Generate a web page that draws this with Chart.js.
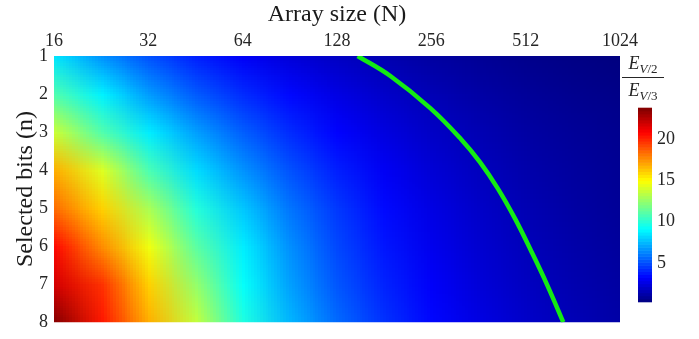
<!DOCTYPE html>
<html>
<head>
<meta charset="utf-8">
<script src="https://cdn.jsdelivr.net/npm/chart.js@4.4.0/dist/chart.umd.min.js"></script>
<style>
  html, body { margin: 0; padding: 0; background: #fff; }
  #wrap { position: relative; width: 699px; height: 339px; }
  #main, #cbar { position: absolute; top: 0; }
  #main { left: 0; }
  #cbar { left: 630px; }
  .frac { position: absolute; left: 622px; top: 53px; width: 42px; text-align: center;
          font-family: 'Liberation Serif', serif; color: #262626; font-size: 18px; }
  .frac .num { line-height: 20px; height: 20px; border-bottom: 1px solid #262626; padding-bottom: 4px; }
  .frac .den { line-height: 20px; margin-top: 2px; }
  .frac sub { font-size: 13px; line-height: 0; vertical-align: -4px; }
</style>
</head>
<body>
<div id="wrap">
  <canvas id="main" width="699" height="339"></canvas>
  <canvas id="cbar" width="69" height="339"></canvas>
  <div class="frac">
    <div class="num"><i>E</i><sub><i>V</i>/2</sub></div>
    <div class="den"><i>E</i><sub><i>V</i>/3</sub></div>
  </div>
</div>
<script>
// array sizes (columns of the map) and selected bits (rows)
var sizes = [16, 22.6, 32, 45.3, 64, 90.5, 128, 181, 256, 362, 512, 724, 1024];
var bits = [1, 2, 3, 4, 5, 6, 7, 8];

// E_V/2 / E_V/3, one array per row
var row1 = [8.5, 6.6, 5.1, 3.95, 3.05, 2.37, 1.85, 1.42, 1.08, 0.82, 0.6, 0.43, 0.3];
var row2 = [10.9, 8.8, 6.8, 5.3, 4.2, 3.37, 2.6, 2.0, 1.53, 1.17, 0.89, 0.67, 0.5];
var row3 = [13.7, 11.0, 8.7, 6.9, 5.4, 4.2, 3.25, 2.5, 1.92, 1.48, 1.13, 0.86, 0.66];
var row4 = [16.8, 14.2, 10.8, 8.3, 6.6, 5.1, 3.9, 2.98, 2.27, 1.73, 1.31, 1.0, 0.76];
var row5 = [18.3, 16.0, 13.0, 9.9, 7.8, 5.9, 4.5, 3.4, 2.6, 1.96, 1.48, 1.12, 0.85];
var row6 = [20.6, 17.6, 14.6, 11.2, 8.7, 6.5, 4.85, 3.7, 2.83, 2.16, 1.65, 1.26, 0.96];
var row7 = [21.8, 19.7, 16.0, 12.5, 9.2, 6.9, 5.2, 4.0, 3.1, 2.35, 1.81, 1.4, 1.08];
var row8 = [23.6, 20.3, 16.8, 13.6, 9.8, 7.4, 5.65, 4.35, 3.35, 2.6, 2.0, 1.55, 1.2];

// green line
var lineN = [149, 189, 254, 318, 366, 417, 473, 534, 599, 675];
var lineBits = [1, 1.52, 2.37, 3.18, 3.79, 4.48, 5.27, 6.14, 7.01, 8];

var xTicks = [16, 32, 64, 128, 256, 512, 1024];
var cbarTicks = [5, 10, 15, 20];
var cMin = 0.28, cMax = 23.75;

var FONT = "'Liberation Serif', 'Times New Roman', serif";
var TICK = '#262626';

function jet(t) {
  t = Math.max(0, Math.min(1, t));
  function c(v) { return Math.round(255 * Math.max(0, Math.min(1, v))); }
  return [c(1.5 - Math.abs(4 * t - 3)), c(1.5 - Math.abs(4 * t - 2)), c(1.5 - Math.abs(4 * t - 1))];
}

var heatmap = {
  id: 'heatmap',
  beforeDatasetsDraw: function(chart) {
    var ctx = chart.ctx, a = chart.chartArea;
    var xs = chart.scales.x, ys = chart.scales.y;
    var rows = [row1, row2, row3, row4, row5, row6, row7, row8];
    var off = document.createElement('canvas');
    off.width = sizes.length; off.height = rows.length;
    var o = off.getContext('2d');
    var img = o.createImageData(sizes.length, rows.length);
    rows.forEach(function(row, j) {
      row.forEach(function(v, i) {
        var col = jet((v - cMin) / (cMax - cMin));
        var k = (j * sizes.length + i) * 4;
        img.data[k] = col[0]; img.data[k + 1] = col[1]; img.data[k + 2] = col[2]; img.data[k + 3] = 255;
      });
    });
    o.putImageData(img, 0, 0);

    var x0 = xs.getPixelForValue(sizes[0]), x1 = xs.getPixelForValue(sizes[1]);
    var dx = x1 - x0;
    var y0 = ys.getPixelForValue(bits[0]), y1 = ys.getPixelForValue(bits[1]);
    var dy = y1 - y0;

    ctx.save();
    ctx.beginPath();
    ctx.rect(a.left, a.top, a.right - a.left, a.bottom - a.top);
    ctx.clip();
    ctx.imageSmoothingEnabled = true;
    ctx.imageSmoothingQuality = 'low';
    ctx.drawImage(off, x0 - dx / 2, y0 - dy / 2, dx * sizes.length, dy * rows.length);
    ctx.restore();
  }
};

new Chart(document.getElementById('main'), {
  type: 'scatter',
  data: {
    datasets: [{
      data: lineN.map(function(N, i) { return {x: N, y: lineBits[i]}; }),
      showLine: true,
      borderColor: 'rgb(20,235,20)',
      borderWidth: 4.5,
      pointRadius: 0,
      tension: 0.4
    }]
  },
  options: {
    responsive: false,
    animation: false,
    layout: {padding: {left: 0, right: 79, top: 0, bottom: 15}},
    plugins: {legend: {display: false}, tooltip: {enabled: false}},
    scales: {
      x: {
        type: 'logarithmic', position: 'top', min: 16, max: 1024,
        afterBuildTicks: function(s) { s.ticks = xTicks.map(function(v) { return {value: v}; }); },
        afterFit: function(s) { s.height = 56; },
        grid: {display: false, drawTicks: false},
        border: {display: false},
        ticks: {autoSkip: false, maxRotation: 0, padding: 4, color: TICK,
                font: {family: FONT, size: 18},
                callback: function(v) { return String(v); }},
        title: {display: true, text: 'Array size (N)', color: '#1a1a1a',
                font: {family: FONT, size: 24}, padding: {top: 0, bottom: 0}}
      },
      y: {
        type: 'linear', reverse: true, min: 1, max: 8,
        afterBuildTicks: function(s) { s.ticks = bits.map(function(v) { return {value: v}; }); },
        afterFit: function(s) { s.width = 54; },
        grid: {display: false, drawTicks: false},
        border: {display: false},
        ticks: {padding: 6, color: TICK, font: {family: FONT, size: 18}},
        title: {display: true, text: 'Selected bits (n)', color: '#1a1a1a',
                font: {family: FONT, size: 24}, padding: {top: 11, bottom: 0}}
      }
    }
  },
  plugins: [heatmap]
});

var colorbar = {
  id: 'colorbar',
  beforeDatasetsDraw: function(chart) {
    var ctx = chart.ctx, a = chart.chartArea, ys = chart.scales.y;
    var steps = 64;
    for (var k = 0; k < steps; k++) {
      var v0 = cMin + (cMax - cMin) * k / steps;
      var v1 = cMin + (cMax - cMin) * (k + 1) / steps;
      var p0 = ys.getPixelForValue(v0), p1 = ys.getPixelForValue(v1);
      var col = jet((k + 0.5) / steps);
      ctx.fillStyle = 'rgb(' + col.join(',') + ')';
      ctx.fillRect(a.left, Math.min(p0, p1) - 0.3, a.right - a.left, Math.abs(p1 - p0) + 0.6);
    }
  }
};

new Chart(document.getElementById('cbar'), {
  type: 'scatter',
  data: {datasets: [{data: []}]},
  options: {
    responsive: false,
    animation: false,
    layout: {padding: {left: 8, right: 0, top: 108, bottom: 37}},
    plugins: {legend: {display: false}, tooltip: {enabled: false}},
    scales: {
      x: {display: false},
      y: {
        position: 'right', min: cMin, max: cMax,
        afterBuildTicks: function(s) { s.ticks = cbarTicks.map(function(v) { return {value: v}; }); },
        afterFit: function(s) { s.width = 47; },
        grid: {display: false, drawTicks: false},
        border: {display: false},
        ticks: {padding: 5, color: TICK, font: {family: FONT, size: 18}}
      }
    }
  },
  plugins: [colorbar]
});
</script>
</body>
</html>
